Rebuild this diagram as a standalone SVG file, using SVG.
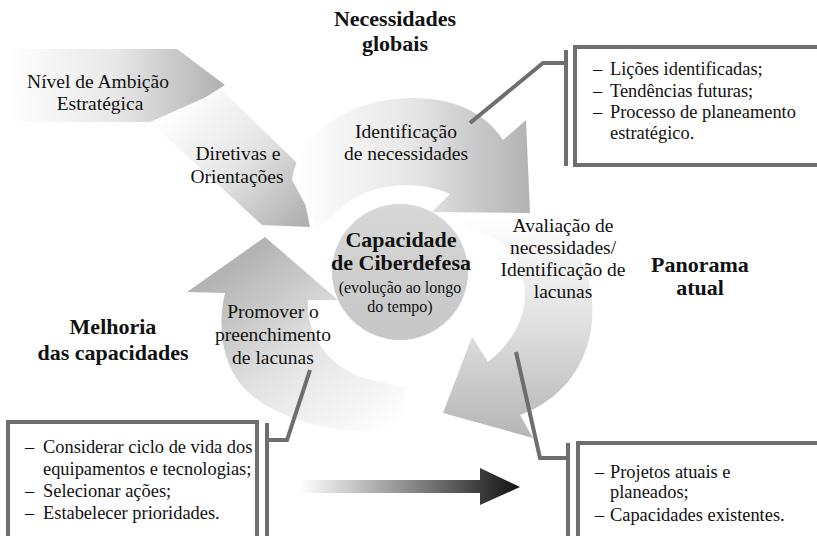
<svg xmlns="http://www.w3.org/2000/svg" width="817" height="536" viewBox="0 0 817 536">
<defs>
<style>
.t{font-family:"Liberation Serif","Times New Roman",serif;font-size:19.5px;fill:#111;}
.c{text-anchor:middle;}
.b{font-weight:bold;font-size:22px;}
.s{font-size:16px;}
.x{font-size:18.4px;}
.box{fill:#fff;stroke:#6e6e6e;stroke-width:4;}
.ln{fill:none;stroke:#6e6e6e;stroke-width:4;}
</style>
<linearGradient id="gN" gradientUnits="userSpaceOnUse" x1="5" y1="0" x2="225" y2="0">
<stop offset="0" stop-color="#ffffff"/><stop offset="0.5" stop-color="#e8e8e8"/><stop offset="1" stop-color="#b0b0b0"/>
</linearGradient>
<linearGradient id="gD" gradientUnits="userSpaceOnUse" x1="175" y1="100" x2="300" y2="225">
<stop offset="0" stop-color="#ffffff"/><stop offset="0.5" stop-color="#e6e6e6"/><stop offset="1" stop-color="#b0b0b0"/>
</linearGradient>
<linearGradient id="gT" gradientUnits="userSpaceOnUse" x1="295" y1="0" x2="530" y2="0">
<stop offset="0" stop-color="#ffffff"/><stop offset="0.5" stop-color="#e6e6e6"/><stop offset="1" stop-color="#b2b2b2"/>
</linearGradient>
<linearGradient id="gR" gradientUnits="userSpaceOnUse" x1="0" y1="215" x2="0" y2="435">
<stop offset="0" stop-color="#ffffff"/><stop offset="0.45" stop-color="#e4e4e4"/><stop offset="1" stop-color="#b6b6b6"/>
</linearGradient>
<linearGradient id="gP" gradientUnits="userSpaceOnUse" x1="400" y1="425" x2="262" y2="245">
<stop offset="0" stop-color="#ffffff"/><stop offset="0.5" stop-color="#e4e4e4"/><stop offset="1" stop-color="#b4b4b4"/>
</linearGradient>
<linearGradient id="gC" gradientUnits="userSpaceOnUse" x1="0" y1="205" x2="0" y2="340">
<stop offset="0" stop-color="#d8d8d8"/><stop offset="1" stop-color="#c6c6c6"/>
</linearGradient>
<linearGradient id="gA" gradientUnits="userSpaceOnUse" x1="300" y1="0" x2="520" y2="0">
<stop offset="0" stop-color="#ffffff"/><stop offset="0.5" stop-color="#8a8a8a"/><stop offset="1" stop-color="#111111"/>
</linearGradient>
</defs>
<rect width="817" height="536" fill="#fff"/>

<g id="nivel">
<polygon points="5,49 177,49 225,85 167,122 5,122" fill="url(#gN)"/>
<text class="t c" x="98" y="88">Nível de Ambição</text>
<text class="t c" x="100" y="110">Estratégica</text>
</g>

<g id="diretivas">
<polygon points="150,122 222,90 297,163 310,227 262,225" fill="url(#gD)"/>
<text class="t c" x="238" y="160">Diretivas e</text>
<text class="t c" x="237" y="183">Orientações</text>
</g>

<g id="identificacao">
<path d="M292,180 C300,130 350,100 410,98 C452,97 485,112 503,140 L526,120 L530,213 L432,212 L450,194 C420,180 372,182 345,205 L318,228 Z" fill="url(#gT)"/>
<text class="t c" x="406" y="138">Identificação</text>
<text class="t c" x="406" y="160">de necessidades</text>
</g>

<g id="avaliacao">
<path d="M458,214 L545,214 C580,240 598,285 591,330 C584,370 560,400 520,415 L533,438 L443,413 L472,337 L488,362 C510,345 525,320 525,295 C525,262 505,238 470,228 Z" fill="url(#gR)"/>
<text class="t c" x="563" y="232">Avaliação de</text>
<text class="t c" x="563" y="254">necessidades/</text>
<text class="t c" x="563" y="276">Identificação de</text>
<text class="t c" x="563" y="298">lacunas</text>
</g>

<g id="promover">
<path d="M405,432 C340,436 272,420 242,386 C220,360 218,322 225,293 L187,292 L265,237 L338,300 L308,300 C306,332 325,363 360,377 L405,388 Z" fill="url(#gP)"/>
<text class="t c" x="273" y="318">Promover o</text>
<text class="t c" x="273" y="341">preenchimento</text>
<text class="t c" x="273" y="364">de lacunas</text>
</g>

<g id="centro">
<circle cx="400" cy="272" r="68" fill="url(#gC)"/>
<text class="t c b" x="401" y="247">Capacidade</text>
<text class="t c b" x="401" y="270">de Ciberdefesa</text>
<text class="t c s" x="400" y="293">(evolução ao longo</text>
<text class="t c s" x="400" y="312">do tempo)</text>
</g>

<g id="titulos">
<text class="t c b" x="395" y="26">Necessidades</text>
<text class="t c b" x="395" y="51">globais</text>
<text class="t c b" x="700" y="272">Panorama</text>
<text class="t c b" x="700" y="295">atual</text>
<text class="t c b" x="113" y="334">Melhoria</text>
<text class="t c b" x="113" y="360">das capacidades</text>
</g>

<g id="connectors">
<polyline class="ln" points="470,123 543,63 566,63"/>
<line class="ln" x1="566" y1="50" x2="566" y2="166"/>
<polyline class="ln" points="310,370 287,440 267,440"/>
<line class="ln" x1="267" y1="423" x2="267" y2="540"/>
<polyline class="ln" points="516,352 540,458 568,458"/>
<line class="ln" x1="568" y1="443" x2="568" y2="540"/>
<polygon points="300,480 480,480 480,468 520,487 480,505 480,493 300,493" fill="url(#gA)"/>
</g>

<g id="box-licoes">
<rect class="box" x="575" y="47" width="260" height="118"/>
<text class="t x" x="593" y="75">–</text><text class="t x" x="610" y="75">Lições identificadas;</text>
<text class="t x" x="593" y="97">–</text><text class="t x" x="610" y="97">Tendências futuras;</text>
<text class="t x" x="593" y="118">–</text><text class="t x" x="610" y="118">Processo de planeamento</text>
<text class="t x" x="610" y="139">estratégico.</text>
</g>

<g id="box-melhoria">
<rect class="box" x="8" y="422" width="249" height="130"/>
<text class="t x" x="25" y="453">–</text><text class="t x" x="43" y="453">Considerar ciclo de vida dos</text>
<text class="t x" x="43" y="475">equipamentos e tecnologias;</text>
<text class="t x" x="25" y="497">–</text><text class="t x" x="43" y="497">Selecionar ações;</text>
<text class="t x" x="25" y="519">–</text><text class="t x" x="43" y="519">Estabelecer prioridades.</text>
</g>

<g id="box-panorama">
<rect class="box" x="578" y="443" width="260" height="110"/>
<text class="t x" x="595" y="478">–</text><text class="t x" x="610" y="478">Projetos atuais e</text>
<text class="t x" x="610" y="498">planeados;</text>
<text class="t x" x="595" y="521">–</text><text class="t x" x="610" y="521">Capacidades existentes.</text>
</g>
</svg>
